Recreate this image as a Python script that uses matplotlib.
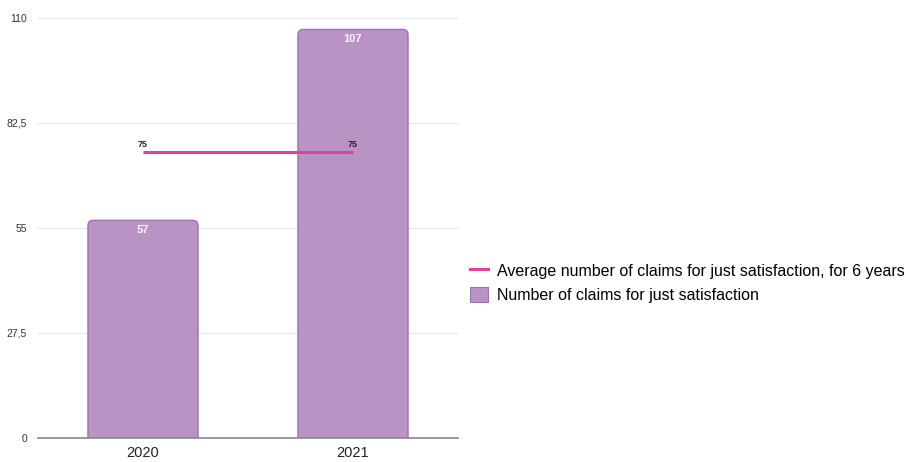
import matplotlib
matplotlib.use("Agg")
import matplotlib.pyplot as plt
from matplotlib.patches import FancyBboxPatch, Patch
from matplotlib.lines import Line2D

years = ["2020", "2021"]
claims = [57, 107]
average = [75, 75]
y_ticks = [0, 27.5, 55, 82.5, 110]
y_tick_labels = ["0", "27,5", "55", "82,5", "110"]

bar_face = "#b993c3"
bar_edge = "#a070b4"
line_color = "#e0449a"

plt.rcParams["font.family"] = ["Liberation Sans", "DejaVu Sans"]

fig = plt.figure(figsize=(9.06, 4.62), dpi=100)
ax = fig.add_axes([38 / 906, 24 / 462, 420 / 906, 420 / 462])

x = list(range(len(years)))
ax.set_xlim(-0.5, len(years) - 0.5)
ax.set_ylim(0, 110)

# rounded-top bars; the bottom corners fall below zero and are clipped
width = 0.524
aspect = (110 / 420) / (2 / 420)
for xi, v in zip(x, claims):
    patch = FancyBboxPatch((xi - width / 2, -10), width, v + 10,
                           boxstyle="round,pad=0,rounding_size=0.025",
                           mutation_aspect=aspect,
                           facecolor=bar_face, edgecolor=bar_edge,
                           linewidth=1.0, zorder=2)
    ax.add_patch(patch)
    ax.text(xi, v - 2.5, f"{v}", ha="center", va="center",
            color="white", fontsize=8, fontweight="bold", zorder=4, alpha=0.9)

ax.plot(x, average, color=line_color, linewidth=2.2, zorder=3,
        solid_capstyle="butt")
for xi, v in zip(x, average):
    ax.text(xi, v + 0.6, f"{v}", ha="center", va="bottom",
            color="#222222", fontsize=6.5, fontweight="bold", zorder=4)

ax.set_yticks(y_ticks)
ax.set_yticklabels(y_tick_labels, fontsize=7.5, color="#333333")
ax.set_xticks(x)
ax.set_xticklabels(years, fontsize=10.5, color="#222222")
ax.tick_params(axis="both", length=0)
ax.tick_params(axis="y", pad=8)
ax.tick_params(axis="x", pad=6)

ax.grid(axis="y", color="#e6e6e6", linewidth=0.8, zorder=0)
ax.set_axisbelow(True)
for s in ["top", "right", "left"]:
    ax.spines[s].set_visible(False)
ax.spines["bottom"].set_color("#888888")
ax.spines["bottom"].set_linewidth(1.2)
ax.spines["bottom"].set_zorder(5)

handles = [
    Line2D([0], [0], color=line_color, linewidth=2.2),
    Patch(facecolor=bar_face, edgecolor=bar_edge, linewidth=0.8),
]
labels = [
    "Average number of claims for just satisfaction, for 6 years",
    "Number of claims for just satisfaction",
]
fig.legend(handles, labels, loc="center left",
           bbox_to_anchor=(470 / 906, 1 - 283 / 462),
           frameon=False, fontsize=11.55, handlelength=1.1,
           handleheight=1.1, handletextpad=0.6, labelspacing=0.5,
           borderaxespad=0, borderpad=0)

fig.savefig("out.png", dpi=100)
